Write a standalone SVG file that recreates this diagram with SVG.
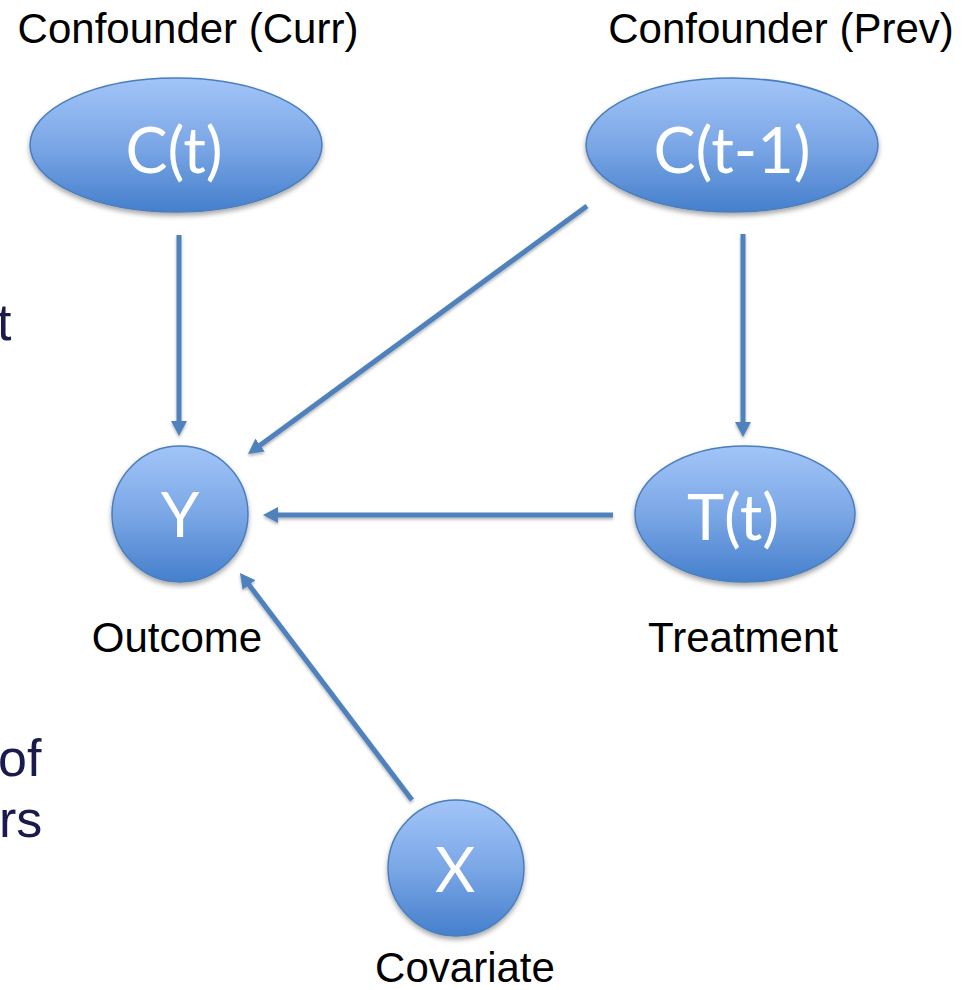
<svg xmlns="http://www.w3.org/2000/svg" width="966" height="990" viewBox="0 0 966 990">
  <defs>
    <linearGradient id="nodeFill" x1="0" y1="0" x2="0" y2="1">
      <stop offset="0" stop-color="#a2c5f8"/>
      <stop offset="0.5" stop-color="#7ba7e6"/>
      <stop offset="1" stop-color="#457fcc"/>
    </linearGradient>
    <filter id="shadow" x="-20%" y="-20%" width="140%" height="150%">
      <feDropShadow dx="0" dy="3" stdDeviation="2.5" flood-color="#000" flood-opacity="0.35"/>
    </filter>
    <filter id="lineShadow" x="-20%" y="-20%" width="140%" height="140%">
      <feDropShadow dx="0" dy="2" stdDeviation="1.5" flood-color="#000" flood-opacity="0.3"/>
    </filter>
    <marker id="head" viewBox="0 0 15 16" refX="3" refY="8" markerWidth="15" markerHeight="16" markerUnits="userSpaceOnUse" orient="auto">
      <path d="M0,0 L15,8 L0,16 z" fill="#4f81bd"/>
    </marker>
  </defs>
  <style>
    .shape { fill: url(#nodeFill); stroke: #4a7ebb; stroke-width: 1.5; filter: url(#shadow); }
    .node-label { font-family: Lato, "Open Sans", "DejaVu Sans", sans-serif; fill: #ffffff; text-anchor: middle; font-weight: 400; }
    .oval-label { font-size: 63px; }
    .circle-label { font-size: 62px; }
    .caption { font-family: "Liberation Sans", Arial, sans-serif; font-size: 42px; fill: #000000; text-anchor: middle; }
    .side { font-family: "Liberation Sans", Arial, sans-serif; font-size: 52px; fill: #1a1a4c; }
    .edge { stroke: #4f81bd; stroke-width: 5; fill: none; marker-end: url(#head); }
  </style>

  <rect width="966" height="990" fill="#ffffff"/>

  <!-- clipped fragments of body text at the left margin -->
  <g id="side-text">
    <text class="side" x="-3" y="340">t</text>
    <text class="side" x="-2" y="776">of</text>
    <text class="side" x="-1" y="837">rs</text>
  </g>

  <!-- connectors -->
  <g id="edges" filter="url(#lineShadow)">
    <line class="edge" x1="179" y1="235" x2="179" y2="424"/>
    <line class="edge" x1="587" y1="206" x2="257.7" y2="446.9"/>
    <line class="edge" x1="743" y1="234" x2="743" y2="425"/>
    <line class="edge" x1="613" y1="515" x2="275" y2="515"/>
    <line class="edge" x1="412" y1="800" x2="247.2" y2="582.6"/>
  </g>

  <g id="node-ct">
    <text class="caption" x="188" y="43">Confounder (Curr)</text>
    <ellipse class="shape" cx="176" cy="145" rx="146" ry="67"/>
    <text class="node-label oval-label" x="174" y="173">C(t)</text>
  </g>

  <g id="node-ct1">
    <text class="caption" x="781" y="43">Confounder (Prev)</text>
    <ellipse class="shape" cx="732" cy="145" rx="146" ry="67"/>
    <text class="node-label oval-label" x="732" y="173">C(t-1)</text>
  </g>

  <g id="node-y">
    <circle class="shape" cx="180" cy="514" r="68"/>
    <text class="node-label circle-label" x="180" y="537">Y</text>
    <text class="caption" x="177" y="652">Outcome</text>
  </g>

  <g id="node-t">
    <ellipse class="shape" cx="745" cy="514" rx="110" ry="68"/>
    <text class="node-label oval-label" x="733" y="540">T(t)</text>
    <text class="caption" x="743" y="652">Treatment</text>
  </g>

  <g id="node-x">
    <circle class="shape" cx="456" cy="868" r="68"/>
    <text class="node-label circle-label" x="455" y="892">X</text>
    <text class="caption" x="465" y="982">Covariate</text>
  </g>
</svg>
